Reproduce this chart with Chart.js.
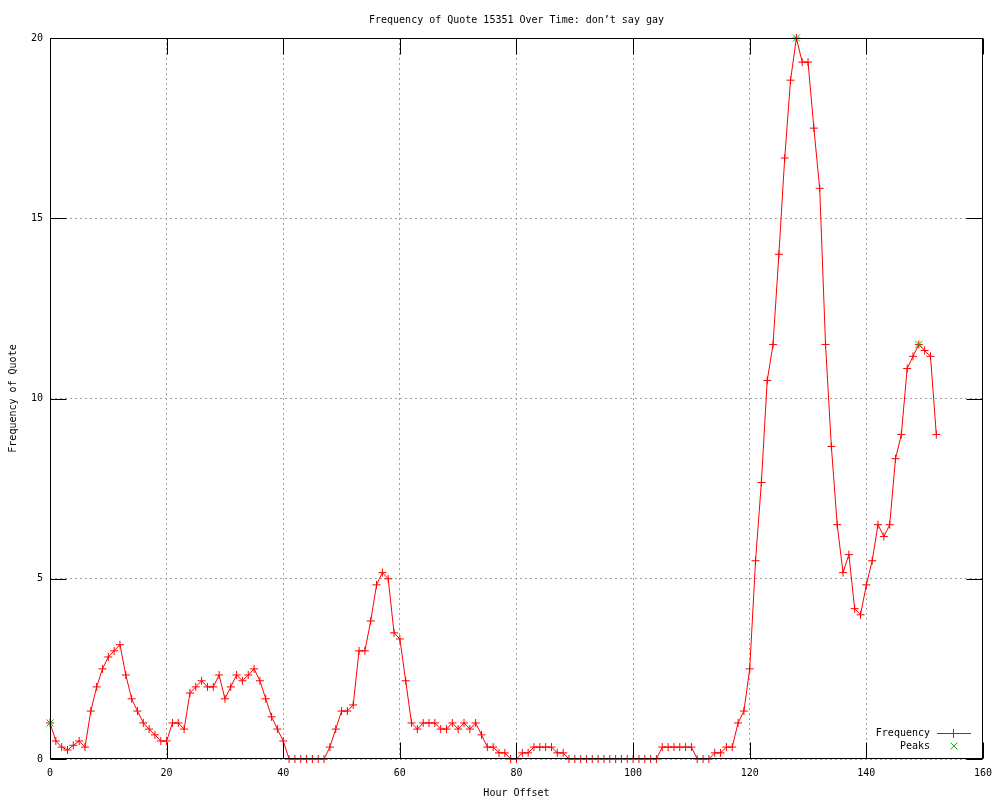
<!DOCTYPE html>
<html>
<head>
<meta charset="utf-8">
<title>Frequency of Quote 15351 Over Time</title>
<script src="https://cdn.jsdelivr.net/npm/chart.js@4.4.0/dist/chart.umd.min.js"></script>
<style>
  html, body { margin: 0; padding: 0; background: #fff; }
  #chart { display: block; }
</style>
</head>
<body>
<canvas id="chart" width="1000" height="800"></canvas>
<script>
// hour offsets, one point per hour
const hours = [
  0, 1, 2, 3, 4, 5, 6, 7, 8, 9, 10, 11, 12, 13, 14, 15, 16, 17, 18, 19,
  20, 21, 22, 23, 24, 25, 26, 27, 28, 29, 30, 31, 32, 33, 34, 35, 36, 37, 38, 39,
  40, 41, 42, 43, 44, 45, 46, 47, 48, 49, 50, 51, 52, 53, 54, 55, 56, 57, 58, 59,
  60, 61, 62, 63, 64, 65, 66, 67, 68, 69, 70, 71, 72, 73, 74, 75, 76, 77, 78, 79,
  80, 81, 82, 83, 84, 85, 86, 87, 88, 89, 90, 91, 92, 93, 94, 95, 96, 97, 98, 99,
  100, 101, 102, 103, 104, 105, 106, 107, 108, 109, 110, 111, 112, 113, 114, 115, 116, 117, 118, 119,
  120, 121, 122, 123, 124, 125, 126, 127, 128, 129, 130, 131, 132, 133, 134, 135, 136, 137, 138, 139,
  140, 141, 142, 143, 144, 145, 146, 147, 148, 149, 150, 151, 152
];

// frequency of the quote for each hour
const frequency = [
  1.0, 0.5, 0.33, 0.25, 0.38, 0.5, 0.33, 1.33, 2.0, 2.5, 2.83, 3.0, 3.17, 2.33, 1.67, 1.33, 1.0, 0.83, 0.67, 0.5,
  0.5, 1.0, 1.0, 0.83, 1.83, 2.0, 2.17, 2.0, 2.0, 2.33, 1.67, 2.0, 2.33, 2.17, 2.33, 2.5, 2.17, 1.67, 1.17, 0.83,
  0.5, 0, 0, 0, 0, 0, 0, 0, 0.33, 0.83, 1.33, 1.33, 1.5, 3.0, 3.0, 3.83, 4.83, 5.17, 5.0, 3.5,
  3.33, 2.17, 1.0, 0.83, 1.0, 1.0, 1.0, 0.83, 0.83, 1.0, 0.83, 1.0, 0.83, 1.0, 0.67, 0.33, 0.33, 0.17, 0.17, 0,
  0, 0.17, 0.17, 0.33, 0.33, 0.33, 0.33, 0.17, 0.17, 0, 0, 0, 0, 0, 0, 0, 0, 0, 0, 0,
  0, 0, 0, 0, 0, 0.33, 0.33, 0.33, 0.33, 0.33, 0.33, 0, 0, 0, 0.17, 0.17, 0.33, 0.33, 1.0, 1.33,
  2.5, 5.5, 7.67, 10.5, 11.5, 14.0, 16.67, 18.83, 20.0, 19.33, 19.33, 17.5, 15.83, 11.5, 8.67, 6.5, 5.17, 5.67, 4.17, 4.0,
  4.83, 5.5, 6.5, 6.17, 6.5, 8.33, 9.0, 10.83, 11.17, 11.5, 11.33, 11.17, 9.0
];

// detected peaks
const peakHours = [0, 128, 149];
const peakValues = [1.0, 20.0, 11.5];

const xTicks = [0, 20, 40, 60, 80, 100, 120, 140, 160];
const yTicks = [0, 5, 10, 15, 20];

const chartTitle = 'Frequency of Quote 15351 Over Time: don\u2019t say gay';
const FONT_FAMILY = "'DejaVu Sans Mono', 'Liberation Mono', monospace";
const RED = '#ff0000';
const GREEN = '#00c000';

// gnuplot style frame: border, inward ticks, title and legend inside the plot
const gnuplotFrame = {
  id: 'gnuplotFrame',
  afterDatasetsDraw(chart) {
    const ctx = chart.ctx;
    const area = chart.chartArea;
    const x = chart.scales.x;
    const y = chart.scales.y;
    const left = Math.round(area.left) + 0.5;
    const right = Math.round(area.right) - 0.5;
    const top = Math.round(area.top) + 0.5;
    const bottom = Math.round(area.bottom) - 0.5;

    ctx.save();
    ctx.setLineDash([]);
    ctx.strokeStyle = '#000';
    ctx.lineWidth = 1;
    ctx.beginPath();
    xTicks.forEach(function(v) {
      const px = Math.round(x.getPixelForValue(v)) + 0.5;
      ctx.moveTo(px, bottom);
      ctx.lineTo(px, bottom - 16);
      ctx.moveTo(px, top);
      ctx.lineTo(px, top + 16);
    });
    yTicks.forEach(function(v) {
      const py = Math.round(y.getPixelForValue(v)) + 0.5;
      ctx.moveTo(left, py);
      ctx.lineTo(left + 16, py);
      ctx.moveTo(right, py);
      ctx.lineTo(right - 16, py);
    });
    ctx.stroke();
    ctx.strokeRect(left, top, right - left, bottom - top);
    ctx.restore();
  },
  afterDraw(chart) {
    const ctx = chart.ctx;
    const area = chart.chartArea;

    ctx.save();
    ctx.setLineDash([]);
    ctx.lineWidth = 1;

    // title
    ctx.fillStyle = '#000';
    ctx.font = '10px ' + FONT_FAMILY;
    ctx.textAlign = 'center';
    ctx.textBaseline = 'middle';
    ctx.fillText(chartTitle, (area.left + area.right) / 2, 20);

    // legend, bottom right
    ctx.textAlign = 'right';
    ctx.fillText('Frequency', 930, 733);
    ctx.fillText('Peaks', 930, 746);

    ctx.fillStyle = RED;
    ctx.fillRect(937, 733, 34, 1);
    ctx.fillRect(953, 729, 1, 9);

    ctx.strokeStyle = GREEN;
    ctx.beginPath();
    ctx.moveTo(950.5, 742.5);
    ctx.lineTo(957.5, 749.5);
    ctx.moveTo(957.5, 742.5);
    ctx.lineTo(950.5, 749.5);
    ctx.stroke();
    ctx.restore();
  }
};

const ctx = document.getElementById('chart').getContext('2d');

new Chart(ctx, {
  type: 'line',
  data: {
    datasets: [
      {
        label: 'Peaks',
        data: peakHours.map((h, i) => ({ x: h, y: peakValues[i] })),
        showLine: false,
        pointStyle: 'crossRot',
        pointRadius: 5,
        pointBorderWidth: 1,
        borderColor: GREEN,
        backgroundColor: GREEN,
        order: 0,
        clip: false
      },
      {
        label: 'Frequency',
        data: hours.map((h, i) => ({ x: h, y: frequency[i] })),
        borderColor: RED,
        backgroundColor: RED,
        borderWidth: 1,
        tension: 0,
        pointStyle: 'cross',
        pointRadius: 4,
        pointBorderWidth: 1,
        order: 1,
        clip: false
      }
    ]
  },
  options: {
    responsive: false,
    animation: false,
    events: [],
    layout: {
      padding: { left: 0, top: 38, right: 17, bottom: 0 }
    },
    plugins: {
      legend: { display: false },
      title: { display: false },
      tooltip: { enabled: false }
    },
    scales: {
      x: {
        type: 'linear',
        min: 0,
        max: 160,
        afterFit: function(scale) { scale.height = 41; },
        afterBuildTicks: function(scale) { scale.ticks = xTicks.map(v => ({ value: v })); },
        ticks: {
          color: '#000',
          font: { family: FONT_FAMILY, size: 10 },
          padding: 8,
          maxRotation: 0
        },
        grid: {
          color: '#a0a0a0',
          lineWidth: 1,
          drawTicks: false
        },
        border: { display: false, dash: [2, 3] },
        title: {
          display: true,
          text: 'Hour Offset',
          color: '#000',
          font: { family: FONT_FAMILY, size: 10 },
          padding: { top: 0, bottom: 1 }
        }
      },
      y: {
        type: 'linear',
        min: 0,
        max: 20,
        afterFit: function(scale) { scale.width = 50; },
        afterBuildTicks: function(scale) { scale.ticks = yTicks.map(v => ({ value: v })); },
        ticks: {
          color: '#000',
          font: { family: FONT_FAMILY, size: 10 },
          padding: 7
        },
        grid: {
          color: '#a0a0a0',
          lineWidth: 1,
          drawTicks: false
        },
        border: { display: false, dash: [2, 3] },
        title: {
          display: true,
          text: 'Frequency of Quote',
          color: '#000',
          font: { family: FONT_FAMILY, size: 10 },
          padding: { top: 7, bottom: 0 }
        }
      }
    }
  },
  plugins: [gnuplotFrame]
});
</script>
</body>
</html>
